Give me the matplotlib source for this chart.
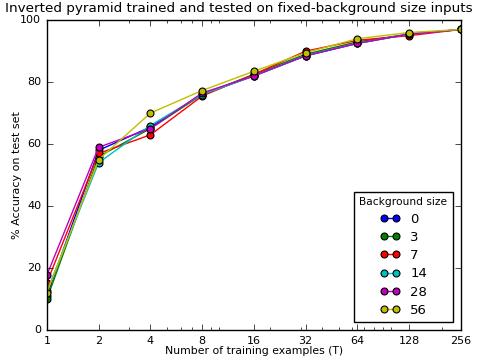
import matplotlib
matplotlib.use('Agg')
import matplotlib.pyplot as plt
from matplotlib.ticker import FixedLocator, NullFormatter

plt.style.use('classic')

examples = [1, 2, 4, 8, 16, 32, 64, 128, 256]
minor_ticks = [3, 5, 6, 7, 9, 10, 20, 30, 40, 50, 60, 70, 80, 90, 100, 200]
bg_sizes = ['0', '3', '7', '14', '28', '56']
colors = ['b', 'g', 'r', 'c', 'm', 'y']

acc_0 = [11.0, 58.0, 65.5, 76.0, 82.0, 88.5, 92.5, 95.5, 97.0]
acc_3 = [10.0, 56.0, 65.0, 76.0, 82.5, 89.0, 93.0, 95.5, 97.0]
acc_7 = [15.3, 57.0, 63.0, 75.5, 82.5, 90.0, 93.5, 95.0, 97.0]
acc_14 = [12.5, 54.0, 66.0, 76.0, 82.0, 88.5, 92.5, 95.5, 97.0]
acc_28 = [17.7, 59.0, 65.0, 76.5, 82.0, 88.5, 92.5, 95.5, 97.0]
acc_56 = [12.0, 55.0, 70.0, 77.3, 83.5, 89.5, 94.0, 96.0, 97.0]
series = [acc_0, acc_3, acc_7, acc_14, acc_28, acc_56]

fig = plt.figure(figsize=(4.78, 3.6), dpi=100, facecolor='white')
ax = fig.add_axes([0.098, 0.083, 0.866, 0.861])
for lab, c, ys in zip(bg_sizes, colors, series):
    ax.plot(examples, ys, '-o', color=c, markerfacecolor=c, markersize=5,
            markeredgewidth=0.8, label=lab)

ax.set_xscale('log', base=2)
ax.set_xlim(1, 256)
ax.set_ylim(0, 100)
ax.set_xticks(examples)
ax.set_xticklabels([str(v) for v in examples])
ax.xaxis.set_minor_locator(FixedLocator(minor_ticks))
ax.xaxis.set_minor_formatter(NullFormatter())
ax.tick_params(labelsize=8)
ax.set_xlabel('Number of training examples (T)', fontsize=7.8, labelpad=0)
ax.set_ylabel('% Accuracy on test set', fontsize=8, labelpad=-1)
fig.suptitle('Inverted pyramid trained and tested on fixed-background size inputs',
             fontsize=9.7, x=0.5, y=0.995, va='top')
leg = ax.legend(loc='lower right', title='Background size', numpoints=2,
                fontsize=9.5, handlelength=1.5, labelspacing=0.4,
                borderaxespad=0.6, frameon=True)
leg.get_title().set_fontsize(7.7)
fig.savefig('out.png', dpi=100, facecolor='white')
